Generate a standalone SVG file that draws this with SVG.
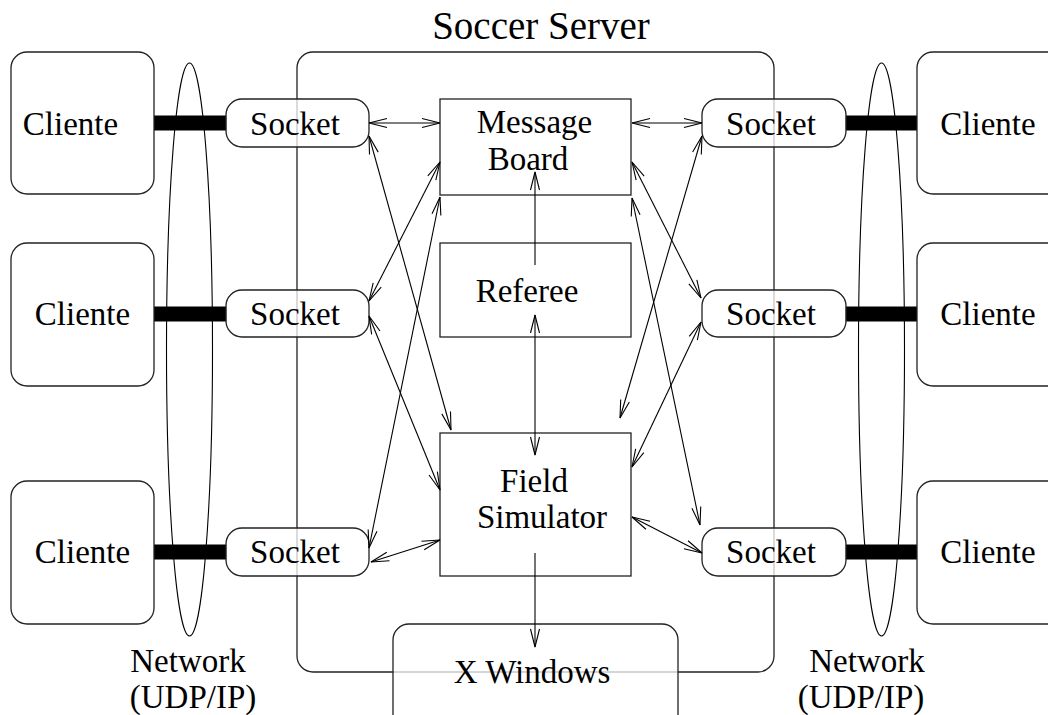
<svg xmlns="http://www.w3.org/2000/svg" width="1048" height="715" viewBox="0 0 1048 715" font-family="'Liberation Serif', 'DejaVu Serif', serif">
<style>
text{font-family:'Liberation Serif','DejaVu Serif',serif;font-size:33px;fill:#000;text-anchor:middle}
.title{font-size:39px}
.box{fill:#fff;stroke:#222;stroke-width:1.3}
.rbox{fill:#fff;stroke:#222;stroke-width:1.3}
.sock{fill:#fff;fill-opacity:0.75;stroke:#222;stroke-width:1.3}
.net{fill:none;stroke:#000;stroke-width:1.1}
.bar{fill:#000}
.c{fill:none;stroke:#000;stroke-width:1.1}
</style>
<defs>
<marker id="a" markerUnits="userSpaceOnUse" markerWidth="24" markerHeight="14" viewBox="0 0 24 14" refX="20" refY="7" orient="auto-start-reverse">
<path d="M2,2.5 L20,7 L2,11.5" fill="none" stroke="#000" stroke-width="1.1"/>
</marker>
</defs>
<rect width="1048" height="715" fill="#fff"/>

<g id="server">
<rect x="297" y="52" width="477" height="620" rx="16" fill="none" stroke="#222" stroke-width="1.3"/>
<text class="title" x="541" y="39">Soccer Server</text>
</g>

<g id="network-left">
<ellipse class="net" cx="189.5" cy="349.5" rx="23" ry="286.5"/>
<text x="188" y="672">Network</text>
<text x="193" y="708">(UDP/IP)</text>
</g>
<g id="network-right">
<ellipse class="net" cx="881.5" cy="349.5" rx="23" ry="286.5"/>
<text x="867" y="672">Network</text>
<text x="861" y="708">(UDP/IP)</text>
</g>

<g id="links">
<rect class="bar" x="154" y="115.5" width="73" height="15"/>
<rect class="bar" x="154" y="306.5" width="73" height="15"/>
<rect class="bar" x="154" y="544.5" width="73" height="15"/>
<rect class="bar" x="845" y="115.5" width="73" height="15"/>
<rect class="bar" x="845" y="306.5" width="73" height="15"/>
<rect class="bar" x="845" y="544.5" width="73" height="15"/>
</g>

<g id="cliente-l1"><rect class="rbox" x="11" y="52" width="143" height="142" rx="16"/><text x="70.5" y="135">Cliente</text></g>
<g id="cliente-l2"><rect class="rbox" x="11" y="243" width="143" height="143" rx="16"/><text x="82.5" y="325">Cliente</text></g>
<g id="cliente-l3"><rect class="rbox" x="11" y="481" width="143" height="143" rx="16"/><text x="82.5" y="563">Cliente</text></g>
<g id="cliente-r1"><rect class="rbox" x="917" y="52" width="150" height="142" rx="16"/><text x="988" y="135">Cliente</text></g>
<g id="cliente-r2"><rect class="rbox" x="917" y="243" width="150" height="143" rx="16"/><text x="988" y="325">Cliente</text></g>
<g id="cliente-r3"><rect class="rbox" x="917" y="481" width="150" height="143" rx="16"/><text x="988" y="563">Cliente</text></g>

<g id="socket-l1"><rect class="sock" x="226" y="99" width="143" height="48" rx="16"/><text x="295" y="135">Socket</text></g>
<g id="socket-l2"><rect class="sock" x="226" y="290" width="143" height="47" rx="16"/><text x="295" y="325">Socket</text></g>
<g id="socket-l3"><rect class="sock" x="226" y="528" width="143" height="48" rx="16"/><text x="295" y="563">Socket</text></g>
<g id="socket-r1"><rect class="sock" x="702" y="99" width="144" height="48" rx="16"/><text x="771" y="135">Socket</text></g>
<g id="socket-r2"><rect class="sock" x="702" y="290" width="144" height="47" rx="16"/><text x="771" y="325">Socket</text></g>
<g id="socket-r3"><rect class="sock" x="702" y="528" width="144" height="48" rx="16"/><text x="771" y="563">Socket</text></g>

<g id="message-board"><rect class="box" x="440" y="99" width="191" height="96"/><text x="534.5" y="133">Message</text><text x="528" y="170">Board</text></g>
<g id="referee"><rect class="box" x="440" y="243" width="191" height="94"/><text x="527" y="302">Referee</text></g>
<g id="field-simulator"><rect class="box" x="440" y="433" width="191" height="143"/><text x="534" y="492">Field</text><text x="542" y="528">Simulator</text></g>
<g id="x-windows"><rect class="sock" x="393" y="624" width="285" height="110" rx="16"/><text x="532" y="683">X Windows</text></g>

<g id="connectors">
<line class="c" x1="369" y1="123" x2="440" y2="123" marker-start="url(#a)" marker-end="url(#a)"/>
<line class="c" x1="369" y1="136" x2="451" y2="430" marker-start="url(#a)" marker-end="url(#a)"/>
<line class="c" x1="369" y1="301" x2="440" y2="162" marker-start="url(#a)" marker-end="url(#a)"/>
<line class="c" x1="369" y1="548" x2="440" y2="197" marker-start="url(#a)" marker-end="url(#a)"/>
<line class="c" x1="369" y1="316" x2="440" y2="490" marker-start="url(#a)" marker-end="url(#a)"/>
<line class="c" x1="371" y1="562" x2="440" y2="540" marker-start="url(#a)" marker-end="url(#a)"/>
<line class="c" x1="535" y1="265" x2="535" y2="172" marker-end="url(#a)"/>
<line class="c" x1="535" y1="315" x2="535" y2="455" marker-start="url(#a)" marker-end="url(#a)"/>
<line class="c" x1="535" y1="553" x2="535" y2="647" marker-end="url(#a)"/>
<line class="c" x1="632" y1="123" x2="702" y2="123" marker-start="url(#a)" marker-end="url(#a)"/>
<line class="c" x1="702" y1="136" x2="620" y2="418" marker-start="url(#a)" marker-end="url(#a)"/>
<line class="c" x1="632" y1="162" x2="701" y2="298" marker-start="url(#a)" marker-end="url(#a)"/>
<line class="c" x1="632" y1="198" x2="700" y2="525" marker-start="url(#a)" marker-end="url(#a)"/>
<line class="c" x1="701" y1="322" x2="632" y2="467" marker-start="url(#a)" marker-end="url(#a)"/>
<line class="c" x1="632" y1="517" x2="702" y2="553" marker-start="url(#a)" marker-end="url(#a)"/>
</g>
</svg>
